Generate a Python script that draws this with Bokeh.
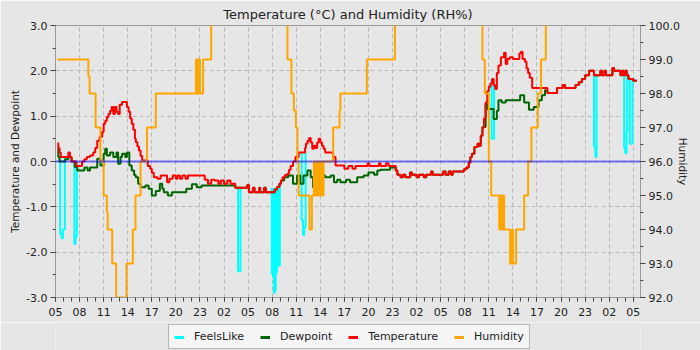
import math
from bokeh.plotting import figure
from bokeh.layouts import column
from bokeh.models import (Range1d, LinearAxis, FixedTicker, PrintfTickFormatter,
                          Span, Legend, LegendItem)
from bokeh.embed import file_html
from bokeh.resources import INLINE

# ---------------- data (hours since 05:00 on day 1) ----------------
hour_labels = ["05", "08", "11", "14", "17", "20", "23", "02",
               "05", "08", "11", "14", "17", "20", "23", "02",
               "05", "08", "11", "14", "17", "20", "23", "02", "05"]
tick_hours = [3 * i for i in range(len(hour_labels))]
end_hour = 72.45

temp_t = [0.25, 0.35, 0.50, 0.65, 1.60, 1.80, 2.00, 2.60, 3.30, 3.60,
          3.90, 4.30, 4.70, 4.95, 5.20, 5.50, 5.80, 6.00, 6.20, 6.40,
          6.60, 6.80, 7.00, 7.20, 7.40, 7.60, 7.80, 8.00, 8.30, 8.90,
          9.10, 9.30, 9.50, 9.70, 9.90, 10.0, 10.2, 10.4, 10.6, 10.8,
          11.5, 11.8, 12.0, 12.25, 12.7, 13.1, 13.9, 14.2, 14.6, 15.0,
          15.2, 15.5, 15.8, 16.2, 16.5, 18.6, 19.0, 19.4, 19.8, 20.3,
          20.6, 21.0, 21.4, 21.8, 22.4, 23.9, 24.1, 24.6, 24.8, 25.4,
          25.5, 26.0, 26.2, 27.3, 27.6, 27.9, 28.1, 28.3, 28.6, 28.9,
          29.1, 29.3, 29.6, 29.9, 30.3, 31.1, 31.2, 31.4, 31.6, 31.8,
          32.0, 32.2, 32.4, 32.6, 32.8, 33.0, 33.2, 33.4, 33.6, 34.6,
          34.9, 36.0, 36.5, 37.0, 37.4, 38.9, 39.1, 40.3, 40.5, 41.2,
          41.5, 42.4, 42.6, 43.0, 43.3, 43.6, 44.2, 44.4, 45.0, 45.3,
          45.9, 46.2, 46.8, 47.0, 48.3, 48.6, 49.0, 49.3, 49.5, 50.9,
          51.2, 51.5, 51.7, 51.9, 52.2, 52.6, 52.8, 53.0, 53.2, 53.4,
          53.6, 53.8, 54.0, 54.2, 54.4, 54.6, 54.8, 55.0, 55.2, 55.5,
          55.9, 56.1, 56.3, 56.6, 57.0, 57.8, 58.0, 58.2, 58.5, 58.7,
          58.9, 59.1, 59.4, 61.3, 62.5, 63.2, 63.5, 64.8, 65.2, 65.6,
          66.0, 66.5, 67.1, 67.9, 68.1, 68.4, 68.6, 69.4, 69.6, 70.4,
          70.6, 70.8, 71.0, 71.2, 71.4, 72.0]
temp_v = [0.40, 0.30, 0.20, 0.10, 0.20, 0.10, 0.00, -0.10, 0.00, 0.05,
          0.10, 0.13, 0.20, 0.30, 0.46, 0.54, 0.65, 0.83, 0.90, 0.98,
          1.05, 1.12, 1.20, 1.05, 1.20, 1.10, 1.05, 1.25, 1.31, 1.20,
          1.10, 0.95, 0.83, 0.70, 0.50, 0.43, 0.33, 0.24, 0.12, 0.02,
          -0.10, -0.16, -0.25, -0.35, -0.38, -0.31, -0.46, -0.38, -0.31, -0.38,
          -0.31, -0.38, -0.31, -0.38, -0.31, -0.40, -0.49, -0.40, -0.42, -0.49,
          -0.42, -0.49, -0.42, -0.49, -0.58, -0.52, -0.68, -0.58, -0.68, -0.58,
          -0.68, -0.58, -0.68, -0.62, -0.56, -0.49, -0.42, -0.35, -0.30, -0.27,
          -0.18, -0.10, 0.00, 0.10, 0.20, 0.30, 0.39, 0.46, 0.52, 0.42,
          0.28, 0.35, 0.30, 0.42, 0.50, 0.42, 0.35, 0.28, 0.20, 0.10,
          -0.09, -0.16, -0.10, -0.16, -0.10, -0.04, -0.10, -0.04, -0.10, -0.04,
          -0.10, -0.20, -0.29, -0.35, -0.29, -0.35, -0.24, -0.29, -0.35, -0.29,
          -0.35, -0.29, -0.22, -0.29, -0.22, -0.29, -0.22, -0.29, -0.22, -0.17,
          -0.13, -0.02, 0.10, 0.17, 0.32, 0.39, 0.35, 0.57, 0.75, 0.95,
          1.30, 1.55, 1.65, 1.72, 1.82, 1.68, 1.60, 1.95, 2.12, 2.30,
          2.40, 2.15, 2.26, 2.30, 2.26, 2.38, 2.42, 2.26, 2.20, 2.05,
          1.95, 1.85, 1.62, 1.51, 1.62, 1.69, 1.62, 1.69, 1.75, 1.82,
          1.90, 2.00, 1.90, 2.00, 1.90, 2.00, 1.90, 2.06, 2.00, 1.90,
          2.00, 1.90, 2.00, 1.90, 1.82, 1.78]

dew_t = [0.25, 0.35, 0.50, 1.20, 1.60, 2.00, 2.40, 2.70, 3.60, 4.00,
         4.30, 5.20, 5.60, 6.00, 6.20, 6.40, 6.80, 7.20, 7.60, 7.80,
         8.10, 8.30, 8.70, 8.90, 9.20, 9.50, 9.80, 10.0, 10.3, 10.6,
         11.2, 11.6, 12.0, 12.5, 13.0, 13.3, 13.5, 14.0, 14.5, 16.3,
         17.0, 17.6, 18.2, 22.4, 23.9, 24.1, 24.6, 24.8, 25.4, 25.5,
         26.0, 26.2, 27.3, 27.6, 27.9, 28.1, 28.5, 29.0, 29.6, 30.1,
         30.5, 30.9, 31.4, 31.8, 32.1, 32.4, 32.8, 33.2, 33.6, 34.3,
         34.7, 35.1, 35.5, 36.2, 36.7, 37.6, 38.4, 39.0, 39.7, 40.1,
         40.5, 41.7, 42.4, 42.6, 43.0, 43.3, 43.6, 44.2, 44.4, 45.0,
         45.3, 45.9, 46.2, 46.8, 47.0, 48.3, 48.6, 49.0, 49.3, 49.5,
         50.9, 51.2, 51.5, 51.7, 51.9, 52.2, 52.6, 52.8, 53.0, 53.2,
         53.6, 53.8, 54.6, 55.0, 55.2, 55.6, 56.1, 57.9, 58.4, 59.0,
         59.6, 60.2, 60.6, 61.0, 61.3, 62.5, 63.2, 63.5, 64.8, 65.2,
         65.6, 66.0, 66.5, 67.1, 67.9, 68.1, 68.4, 68.6, 69.4, 69.6,
         70.4, 70.6, 70.8, 71.0, 71.2, 71.4, 72.0]
dew_v = [0.28, 0.10, 0.00, 0.05, 0.10, 0.00, -0.12, -0.20, -0.13, -0.20,
         -0.13, 0.06, -0.09, 0.17, 0.28, 0.13, 0.20, 0.10, 0.20, -0.05,
         0.10, 0.17, 0.10, 0.20, -0.09, -0.20, -0.30, -0.35, -0.49, -0.57,
         -0.53, -0.60, -0.75, -0.65, -0.49, -0.60, -0.68, -0.75, -0.68, -0.60,
         -0.50, -0.57, -0.53, -0.58, -0.52, -0.68, -0.58, -0.68, -0.58, -0.68,
         -0.58, -0.68, -0.62, -0.56, -0.49, -0.42, -0.35, -0.31, -0.49, -0.31,
         -0.49, -0.31, -0.20, -0.35, -0.57, -0.31, -0.20, -0.31, -0.35, -0.31,
         -0.46, -0.40, -0.46, -0.40, -0.46, -0.35, -0.31, -0.24, -0.29, -0.20,
         -0.18, -0.13, -0.20, -0.29, -0.35, -0.29, -0.35, -0.24, -0.29, -0.35,
         -0.29, -0.35, -0.29, -0.22, -0.29, -0.22, -0.29, -0.22, -0.29, -0.22,
         -0.17, -0.13, -0.02, 0.10, 0.17, 0.32, 0.39, 0.35, 0.57, 0.76,
         1.27, 1.16, 0.94, 1.12, 1.35, 1.30, 1.35, 1.46, 1.30, 1.14,
         1.20, 1.35, 1.46, 1.57, 1.51, 1.62, 1.69, 1.62, 1.69, 1.75,
         1.82, 1.90, 2.00, 1.90, 2.00, 1.90, 2.00, 1.90, 2.06, 2.00,
         1.90, 2.00, 1.90, 2.00, 1.90, 1.82, 1.78]

# FeelsLike only departs from the temperature trace in these dips (NaN = gap)
nan = float("nan")
feels_t = [0.58, 0.58, 0.79, 0.92, 1.17, nan,
           2.35, 2.35, 2.50, 2.65, nan,
           22.75, 22.75, 23.05, nan,
           26.95, 26.95, 27.05, 27.10, 27.18, 27.22, 27.32, 27.36, 27.44, 27.48,
           27.58, 27.62, 27.72, 27.76, 27.86, 27.90, 27.95, nan,
           30.67, 30.67, 30.85, 31.00, 31.17, nan,
           54.35, 54.35, 54.65, nan,
           67.10, 67.10, 67.28, 67.42, nan,
           70.86, 70.86, 71.00, 71.15, 71.25, nan,
           71.57, 71.57, 71.90]
feels_v = [0.10, -1.60, -1.70, -1.50, 0.10, nan,
           0.00, -1.82, -1.66, 0.00, nan,
           -0.58, -2.42, -0.58, nan,
           -0.58, -2.47, -0.60, -2.55, -0.62, -2.90, -0.62, -2.85, -0.60, -2.45,
           -0.56, -2.30, -0.56, -2.30, -0.49, -2.30, -0.49, nan,
           0.20, -1.30, -1.62, -1.45, 0.20, nan,
           1.82, 0.50, 1.68, nan,
           1.90, 0.33, 0.10, 1.90, nan,
           2.00, 0.30, 0.18, 0.68, 2.00, nan,
           1.82, 0.39, 1.82]

# readings above the top of the 92-100 scale are entered as 100.5 (off chart)
hum_t = [0.25, 4.10, 4.25, 5.00, 5.60, 6.00, 6.40, 6.50, 7.07, 7.56,
         8.85, 9.64, 9.97, 10.6, 11.4, 12.5, 17.5, 17.6, 17.7, 17.8,
         17.9, 18.0, 18.4, 19.4, 28.9, 29.4, 29.7, 29.95, 30.15, 30.3,
         31.65, 31.95, 32.2, 32.35, 32.5, 32.65, 32.8, 32.95, 33.1, 33.25,
         33.4, 34.6, 35.4, 35.5, 38.8, 42.3, 53.2, 53.5, 54.0, 54.3,
         55.3, 55.4, 55.5, 55.6, 55.7, 55.8, 55.9, 56.65, 56.9, 57.0,
         57.4, 58.4, 58.9, 59.3, 60.1, 60.5, 61.1]
hum_v = [99.0, 98.5, 98.0, 97.0, 96.0, 95.0, 94.5, 94.0, 93.0, 92.0,
         93.0, 94.0, 95.0, 96.0, 97.0, 98.0, 99.0, 98.0, 99.0, 98.0,
         99.0, 98.0, 99.0, 100.5, 99.0, 98.0, 97.5, 97.0, 96.0, 95.0,
         94.0, 95.0, 96.0, 95.0, 96.0, 95.0, 96.0, 95.0, 96.0, 95.0,
         96.0, 97.0, 97.5, 98.0, 99.0, 100.5, 99.0, 98.0, 96.0, 95.0,
         94.0, 95.0, 94.0, 95.0, 94.0, 95.0, 94.0, 93.0, 94.0, 93.0,
         94.0, 95.0, 96.0, 97.0, 98.0, 99.0, 100.5]

series_names = ["FeelsLike", "Dewpoint", "Temperature", "Humidity"]
series_colors = ["#00ffff", "#006400", "#ff0000", "#ffa500"]


def stepify(ts, vs, t_end=None):
    """Turn readings into a stair-step path (value held until next reading)."""
    xs, ys = [], []
    for i, (t, v) in enumerate(zip(ts, vs)):
        if i > 0 and not (math.isnan(v) or math.isnan(vs[i - 1])):
            xs.append(t)
            ys.append(vs[i - 1])
        xs.append(t)
        ys.append(v)
    if t_end is not None:
        xs.append(t_end)
        ys.append(vs[-1])
    return xs, ys


FONT = "DejaVu Sans"
BG = "#e6e6e6"

fx, fy = stepify(feels_t, feels_v)
dx, dy = stepify(dew_t, dew_v, end_hour)
tx, ty = stepify(temp_t, temp_v, end_hour)
hx, hy = stepify(hum_t, hum_v, end_hour)
paths = [(fx, fy), (dx, dy), (tx, ty), (hx, hy)]

# ---------------- main chart ----------------
pm = figure(width=700, height=322, output_backend="svg", toolbar_location=None,
            x_range=Range1d(0, 72.9), y_range=Range1d(-3, 3),
            min_border_left=55, min_border_right=60, min_border_top=25,
            min_border_bottom=25)
pm.background_fill_color = BG
pm.border_fill_color = BG
pm.outline_line_color = "#999999"

pm.title.text = "Temperature (°C) and Humidity (RH%)"
pm.title.align = "center"
pm.title.text_font = FONT
pm.title.text_font_size = "13px"
pm.title.text_font_style = "normal"
pm.title.text_color = "#222222"
pm.title.standoff = 7

pm.extra_y_ranges = {"hum": Range1d(92, 100)}

for (xs, ys), col in zip(paths, series_colors):
    if col == series_colors[3]:
        pm.line(xs, ys, line_color=col, line_width=2, y_range_name="hum")
    else:
        pm.line(xs, ys, line_color=col, line_width=2)

pm.add_layout(Span(location=0, dimension="width", line_color="#0000ff",
                   line_alpha=0.5, line_width=2))

pm.xaxis.ticker = FixedTicker(ticks=tick_hours, minor_ticks=list(range(0, 73)))
pm.xaxis.major_label_overrides = {t: lab for t, lab in zip(tick_hours, hour_labels)}
pm.yaxis.ticker = FixedTicker(ticks=[-3, -2, -1, 0, 1, 2, 3],
                              minor_ticks=[i * 0.5 for i in range(-6, 7)])
pm.yaxis.formatter = PrintfTickFormatter(format="%.1f")
pm.yaxis.axis_label = "Temperature and Dewpoint"

ax_r = LinearAxis(y_range_name="hum", axis_label="Humidity",
                  ticker=FixedTicker(ticks=list(range(92, 101)),
                                     minor_ticks=[92 + i * 0.5 for i in range(17)]),
                  formatter=PrintfTickFormatter(format="%.1f"))
pm.add_layout(ax_r, "right")

for ax in [pm.xaxis[0], pm.yaxis[0], ax_r]:
    ax.axis_line_color = "#999999"
    ax.major_tick_line_color = "#444444"
    ax.minor_tick_line_color = "#444444"
    ax.major_label_text_font = FONT
    ax.major_label_text_font_size = "11px"
    ax.major_label_text_color = "#222222"
    ax.axis_label_text_font = FONT
    ax.axis_label_text_font_size = "10.5px"
    ax.axis_label_text_font_style = "normal"
    ax.axis_label_text_color = "#222222"
    ax.major_tick_in = 0
    ax.minor_tick_in = 0

pm.xaxis.major_tick_out = 4
pm.xaxis.minor_tick_out = 4
pm.xaxis.major_label_standoff = 6
for ax in [pm.yaxis[0], ax_r]:
    ax.major_tick_out = 5
    ax.minor_tick_out = 3
    ax.major_label_standoff = 3
pm.yaxis.axis_label_standoff = 2
ax_r.axis_label_standoff = -6

pm.xgrid.ticker = FixedTicker(ticks=tick_hours)
pm.ygrid.ticker = FixedTicker(ticks=[-3, -2, -1, 0, 1, 2, 3])
for g in [pm.xgrid[0], pm.ygrid[0]]:
    g.grid_line_color = "#b8b8b8"
    g.grid_line_dash = "4 3"
    g.grid_line_width = 1

# ---------------- legend strip under the chart ----------------
# the same series are drawn here outside the visible range, only to key the legend
pl = figure(width=700, height=28, output_backend="svg", toolbar_location=None,
            title=None, x_axis_type=None, y_axis_type=None,
            x_range=Range1d(-200, -199), y_range=Range1d(-200, -199),
            min_border=0)
pl.background_fill_color = BG
pl.border_fill_color = BG
pl.outline_line_color = None

items = []
for name, col, (xs, ys) in zip(series_names, series_colors, paths):
    r = pl.line(xs, ys, line_color=col, line_width=3)
    items.append(LegendItem(label=name, renderers=[r]))

legend = Legend(items=items, orientation="horizontal", location=(113, 1))
legend.label_text_font = FONT
legend.label_text_font_size = "11px"
legend.label_text_color = "#222222"
legend.glyph_width = 10
legend.glyph_height = 12
legend.label_height = 12
legend.label_standoff = 10
legend.spacing = 16
legend.padding = 5
legend.margin = 0
legend.border_line_color = "#777777"
legend.background_fill_color = "#f5f5f5"
legend.background_fill_alpha = 1.0
pl.add_layout(legend)

p = column(pm, pl, spacing=0)

open("out.html", "w").write(file_html(p, INLINE))
